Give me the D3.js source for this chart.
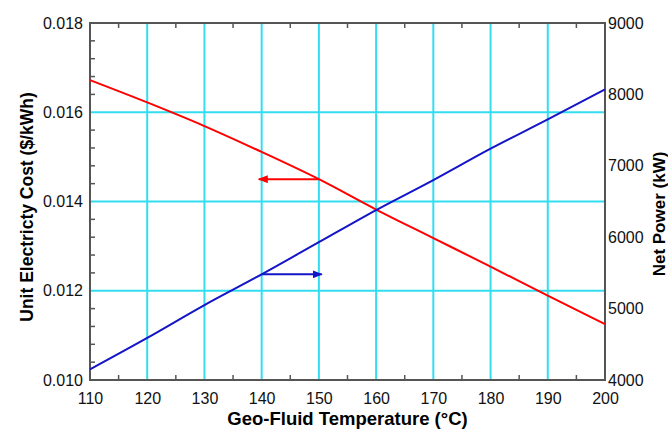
<!DOCTYPE html>
<html>
<head>
<meta charset="utf-8">
<script src="https://cdn.jsdelivr.net/npm/d3@7"></script>
<style>
  body { margin: 0; background: #fff; }
  text { font-family: "Liberation Sans", Arial, sans-serif; }
</style>
</head>
<body>
<div id="chart"></div>
<script>
// Data
const temperature = [110, 120, 130, 140, 150, 160, 170, 180, 190, 200];
const unitCost = [0.01672, 0.01622, 0.01569, 0.01511, 0.01450, 0.01382, 0.01318, 0.01254, 0.01189, 0.01125];
const netPower = [4150, 4590, 5050, 5480, 5930, 6380, 6800, 7240, 7650, 8070];

const xTicks = [110, 120, 130, 140, 150, 160, 170, 180, 190, 200];
const costTicks = [0.010, 0.012, 0.014, 0.016, 0.018];
const powerTicks = [4000, 5000, 6000, 7000, 8000, 9000];

// arrows pointing to each curve's axis: [from temp, to temp]
const costArrow = [150, 139.5];
const powerArrow = [140, 150.5];

const W = 668, H = 429;
const margin = { top: 23, right: 63, bottom: 49, left: 90 };
const width = W - margin.left - margin.right;
const height = H - margin.top - margin.bottom;

const gridColor = "#33ddf0";
const axisColor = "#555";

const svg = d3.select("#chart").append("svg")
  .attr("width", W).attr("height", H);

const defs = svg.append("defs");
function marker(id, color) {
  defs.append("marker")
    .attr("id", id)
    .attr("viewBox", "0 0 10 8")
    .attr("refX", 9).attr("refY", 4)
    .attr("markerWidth", 5).attr("markerHeight", 4)
    .attr("markerUnits", "strokeWidth")
    .attr("orient", "auto")
    .append("path").attr("d", "M0,0L10,4L0,8z").attr("fill", color);
}
marker("arrRed", "#ff0000");
marker("arrBlue", "#1414c8");

const g = svg.append("g").attr("transform", `translate(${margin.left},${margin.top})`);

const x = d3.scaleLinear().domain([110, 200]).range([0, width]);
const yCost = d3.scaleLinear().domain([0.010, 0.018]).range([height, 0]);
const yPower = d3.scaleLinear().domain([4000, 9000]).range([height, 0]);

// grid
g.append("g").selectAll("line").data(xTicks.slice(1, -1)).join("line")
  .attr("x1", d => x(d)).attr("x2", d => x(d))
  .attr("y1", 0).attr("y2", height)
  .attr("stroke", gridColor).attr("stroke-width", 2);
g.append("g").selectAll("line").data(costTicks.slice(1, -1)).join("line")
  .attr("x1", 0).attr("x2", width)
  .attr("y1", d => yCost(d)).attr("y2", d => yCost(d))
  .attr("stroke", gridColor).attr("stroke-width", 2);

// minor ticks (inside)
const xMinor = d3.range(115, 200, 10);
const yMinor = d3.range(0.0104, 0.018, 0.0004).filter(v => Math.abs(v / 0.002 - Math.round(v / 0.002)) > 0.01);
g.append("g").selectAll("line").data(xMinor).join("line")
  .attr("x1", d => x(d)).attr("x2", d => x(d))
  .attr("y1", height).attr("y2", height - 5)
  .attr("stroke", axisColor).attr("stroke-width", 1.5);
g.append("g").selectAll("line").data(xMinor).join("line")
  .attr("x1", d => x(d)).attr("x2", d => x(d))
  .attr("y1", 0).attr("y2", 5)
  .attr("stroke", axisColor).attr("stroke-width", 1.5);
g.append("g").selectAll("line").data(yMinor).join("line")
  .attr("x1", 0).attr("x2", 5)
  .attr("y1", d => yCost(d)).attr("y2", d => yCost(d))
  .attr("stroke", axisColor).attr("stroke-width", 1.5);

// frame
g.append("rect").attr("width", width).attr("height", height)
  .attr("fill", "none").attr("stroke", axisColor).attr("stroke-width", 2);

// axes labels via d3 axes (no tick lines)
const xAxis = g.append("g").attr("transform", `translate(0,${height})`)
  .call(d3.axisBottom(x).tickValues(xTicks).tickSize(0).tickPadding(10).tickFormat(d3.format("d")));
const yAxisL = g.append("g")
  .call(d3.axisLeft(yCost).tickValues(costTicks).tickSize(0).tickPadding(7).tickFormat(d3.format(".3f")));
const yAxisR = g.append("g").attr("transform", `translate(${width},0)`)
  .call(d3.axisRight(yPower).tickValues(powerTicks).tickSize(0).tickPadding(3).tickFormat(d3.format("d")));
[xAxis, yAxisL, yAxisR].forEach(a => {
  a.select(".domain").remove();
  a.selectAll("text").attr("font-size", 16).attr("fill", "#111")
    .style("font-family", "Liberation Sans, Arial, sans-serif");
});
xAxis.selectAll("text").attr("dy", "0.9em");

// lines
const costLine = d3.line().curve(d3.curveMonotoneX).x((d, i) => x(temperature[i])).y(d => yCost(d));
const powerLine = d3.line().curve(d3.curveMonotoneX).x((d, i) => x(temperature[i])).y(d => yPower(d));

g.append("path").datum(unitCost).attr("d", costLine)
  .attr("fill", "none").attr("stroke", "#ff0000").attr("stroke-width", 2);
g.append("path").datum(netPower).attr("d", powerLine)
  .attr("fill", "none").attr("stroke", "#1414c8").attr("stroke-width", 2);

// arrows
const costAtArrow = unitCost[temperature.indexOf(costArrow[0])];
g.append("line")
  .attr("x1", x(costArrow[0])).attr("x2", x(costArrow[1]))
  .attr("y1", yCost(costAtArrow)).attr("y2", yCost(costAtArrow))
  .attr("stroke", "#ff0000").attr("stroke-width", 2)
  .attr("marker-end", "url(#arrRed)");
const powerAtArrow = netPower[temperature.indexOf(powerArrow[0])];
g.append("line")
  .attr("x1", x(powerArrow[0])).attr("x2", x(powerArrow[1]))
  .attr("y1", yPower(powerAtArrow)).attr("y2", yPower(powerAtArrow))
  .attr("stroke", "#1414c8").attr("stroke-width", 2)
  .attr("marker-end", "url(#arrBlue)");

// titles
svg.append("text")
  .attr("x", margin.left + width / 2).attr("y", 425)
  .attr("text-anchor", "middle").attr("font-size", 18.5).attr("font-weight", "bold")
  .text("Geo-Fluid Temperature (°C)");
svg.append("text")
  .attr("transform", `translate(33,207) rotate(-90)`)
  .attr("text-anchor", "middle").attr("font-size", 17.5).attr("font-weight", "bold")
  .text("Unit Electricty Cost ($/kWh)");
svg.append("text")
  .attr("transform", `translate(665,214) rotate(-90)`)
  .attr("text-anchor", "middle").attr("font-size", 17).attr("font-weight", "bold")
  .text("Net Power (kW)");
</script>
</body>
</html>
